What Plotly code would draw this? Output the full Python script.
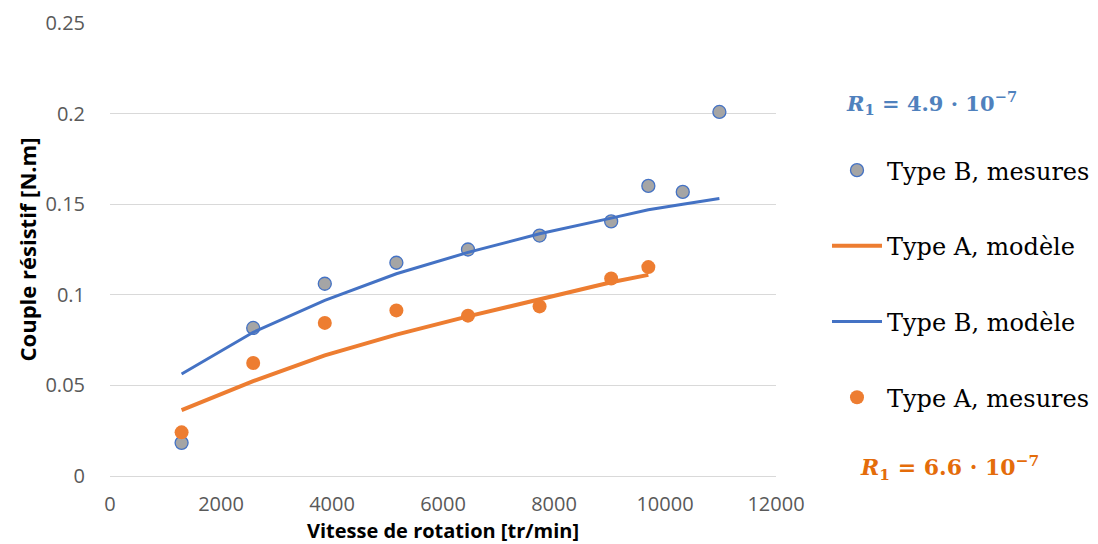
import plotly.graph_objects as go

# Measured speeds [tr/min]
speed_B_meas = [1290, 2580, 3870, 5160, 6450, 7740, 9030, 9700, 10320, 10980]
torque_B_meas = [0.0183, 0.0817, 0.1061, 0.1177, 0.1250, 0.1327, 0.1405, 0.1601, 0.1568, 0.2009]

speed_A_meas = [1290, 2580, 3870, 5160, 6450, 7740, 9030, 9700]
torque_A_meas = [0.0241, 0.0624, 0.0845, 0.0914, 0.0885, 0.0936, 0.1090, 0.1153]

speed_B_model = [1290, 2580, 3870, 5160, 6450, 7740, 9030, 9700, 10320, 10980]
torque_B_model = [0.0563, 0.0793, 0.0969, 0.1116, 0.1234, 0.1337, 0.1423, 0.1469, 0.1500, 0.1531]

speed_A_model = [1290, 2580, 3870, 5160, 6450, 7740, 9030, 9700]
torque_A_model = [0.0363, 0.0523, 0.0666, 0.0780, 0.0881, 0.0977, 0.1069, 0.1110]

x_ticks = [0, 2000, 4000, 6000, 8000, 10000, 12000]
y_ticks = [0, 0.05, 0.1, 0.15, 0.2, 0.25]

BLUE = "#4472C4"
ORANGE = "#ED7D31"
GRAY = "#A5A5A5"

fig = go.Figure()
fig.add_trace(go.Scatter(
    x=speed_B_meas, y=torque_B_meas, mode="markers", name="Type B, mesures",
    legendgroup="g1",
    marker=dict(size=13, color=GRAY, line=dict(color=BLUE, width=1.3)),
))
fig.add_trace(go.Scatter(
    x=speed_A_model, y=torque_A_model, mode="lines", name="Type A, modèle",
    legendgroup="g2",
    line=dict(color=ORANGE, width=4),
))
fig.add_trace(go.Scatter(
    x=speed_B_model, y=torque_B_model, mode="lines", name="Type B, modèle",
    legendgroup="g3",
    line=dict(color=BLUE, width=3),
))
fig.add_trace(go.Scatter(
    x=speed_A_meas, y=torque_A_meas, mode="markers", name="Type A, mesures",
    legendgroup="g4",
    marker=dict(size=14, color=ORANGE, line=dict(color=ORANGE, width=0)),
))

fig.update_layout(
    width=1098, height=544,
    margin=dict(l=102, r=330, t=15, b=75.5, autoexpand=False),
    paper_bgcolor="white", plot_bgcolor="white",
    font=dict(family="Open Sans, sans-serif", color="#595959", size=20),
    legend=dict(
        x=0.7459, xref="container", xanchor="left",
        y=0.7426, yref="container", yanchor="top",
        font=dict(family="DejaVu Serif, serif", size=24, color="black"),
        tracegroupgap=41.5, traceorder="grouped", itemwidth=50,
        bgcolor="rgba(0,0,0,0)",
    ),
    showlegend=True,
)
fig.update_xaxes(
    range=[0, 12000], tickvals=x_ticks, tickformat="d",
    showgrid=False, zeroline=False, showline=False, automargin=False,
    ticks="", ticklabelstandoff=14,
    title=dict(text="<b>Vitesse de rotation [tr/min]</b>",
               font=dict(family="Open Sans, sans-serif", size=20, color="black"),
               standoff=0),
)
fig.update_yaxes(
    range=[0, 0.25], tickvals=y_ticks,
    showgrid=True, gridcolor="#D9D9D9", gridwidth=1, automargin=False,
    zeroline=True, zerolinecolor="#D9D9D9", zerolinewidth=1, showline=False,
    ticks="", ticklabelstandoff=24,
    title=dict(text="<b>Couple résistif [N.m]</b>",
               font=dict(family="Open Sans, sans-serif", size=22, color="black"),
               standoff=2),
)

fig.add_annotation(
    xref="paper", yref="paper", x=1.102, y=0.8245, xanchor="left", yanchor="middle",
    text="<b><i>R</i><sub>1</sub> = 4.9 · 10<sup>−7</sup></b>", showarrow=False,
    font=dict(family="DejaVu Serif, serif", size=21, color="#4F81BD"),
)
fig.add_annotation(
    xref="paper", yref="paper", x=1.123, y=0.0174, xanchor="left", yanchor="middle",
    text="<b><i>R</i><sub>1</sub> = 6.6 · 10<sup>−7</sup></b>", showarrow=False,
    font=dict(family="DejaVu Serif, serif", size=22, color="#E46C0A"),
)

fig.write_html("out.html")
